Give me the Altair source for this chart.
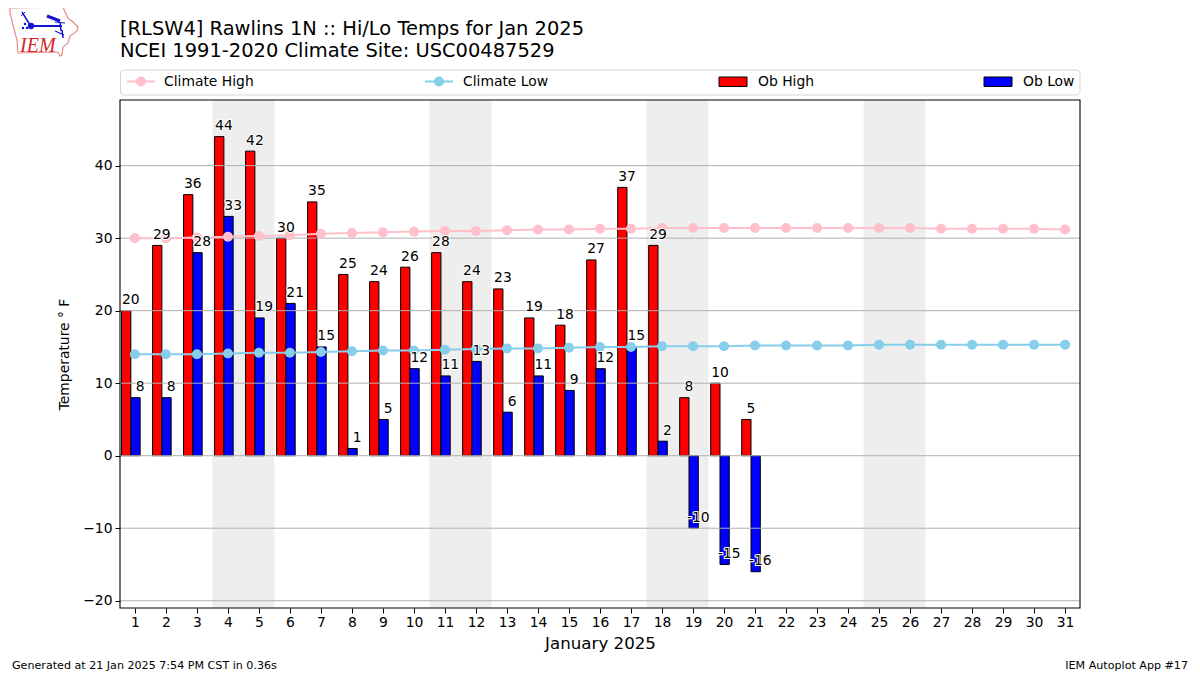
import altair as alt
import pandas as pd

days = list(range(1, 32))
ob_days = list(range(1, 22))
ob_high = [20, 29, 36, 44, 42, 30, 35, 25, 24, 26, 28, 24, 23, 19, 18, 27, 37, 29, 8, 10, 5]
ob_low = [8, 8, 28, 33, 19, 21, 15, 1, 5, 12, 11, 13, 6, 11, 9, 12, 15, 2, -10, -15, -16]
climate_high = [30.0, 30.0, 30.1, 30.2, 30.3, 30.4, 30.6, 30.7, 30.8, 30.9, 31.0, 31.0, 31.1, 31.2, 31.2, 31.3,
                31.3, 31.4, 31.4, 31.4, 31.4, 31.4, 31.4, 31.4, 31.4, 31.4, 31.3, 31.3, 31.3, 31.3, 31.2]
climate_low = [14.0, 14.0, 14.0, 14.1, 14.2, 14.2, 14.3, 14.4, 14.5, 14.5, 14.6, 14.7, 14.8, 14.8, 14.9, 15.0,
               15.0, 15.1, 15.1, 15.1, 15.2, 15.2, 15.2, 15.2, 15.3, 15.3, 15.3, 15.3, 15.3, 15.3, 15.3]
weekend_start = [3.5, 10.5, 17.5, 24.5]
weekend_end = [5.5, 12.5, 19.5, 26.5]
y_ticks = [-20, -10, 0, 10, 20, 30, 40]

FONT = "DejaVu Sans"
FS = 13.89
xdom = [0.52, 31.48]
ydom = [-21.0, 49.05]
W, H = 960, 508
L, T = 112, 92

# logo decoration outline (page pixels)
iowa_px = [(10, 8), (63, 7), (65, 12), (68, 18), (73, 22), (78, 27), (77, 31), (70, 36), (68, 43), (63, 47),
           (62, 55), (60, 56), (58, 52), (18, 53), (17, 40), (13, 25), (10, 13), (10, 8)]


def dx(px):
    return xdom[0] + (px - 8 - L) / W * (xdom[1] - xdom[0])


def dy(py):
    return ydom[1] - (py - 8 - T) / H * (ydom[1] - ydom[0])


def vx(px):
    return alt.value(px - 8 - L)


def vy(py):
    return alt.value(py - 8 - T)


def one():
    return alt.Chart(pd.DataFrame({"a": [0]}))


ob = pd.DataFrame({"day": ob_days, "high": ob_high, "low": ob_low})
ob["h0"] = ob.day - 0.43
ob["h1"] = ob.day - 0.13
ob["l0"] = ob.day - 0.13
ob["l1"] = ob.day + 0.17
ob["high_txt"] = ob.high.astype(str)
ob["low_txt"] = ob.low.astype(str)
clim = pd.DataFrame({"day": days, "chigh": climate_high, "clow": climate_low})
wk = pd.DataFrame({"a": weekend_start, "b": weekend_end})
grid_df = pd.DataFrame({"g": y_ticks})

xs = alt.Scale(domain=xdom, nice=False, zero=False)
ys = alt.Scale(domain=ydom, nice=False, zero=False)
x_axis = alt.Axis(title="January 2025", values=days, grid=False, format="d", labelFont=FONT,
                  labelFontSize=FS, labelColor="#000", tickColor="#000", tickSize=5, labelPadding=2,
                  titleFont=FONT, titleFontSize=16.67, titleFontWeight="normal", titleColor="#000",
                  titlePadding=7, domain=False, labelOverlap=False)
y_axis = alt.Axis(title="Temperature \u00b0 F", values=y_ticks, grid=False, labelFont=FONT, labelFontSize=FS,
                  labelColor="#000", tickColor="#000", tickSize=5, labelPadding=3, titleFont=FONT,
                  titleFontSize=FS, titleFontWeight="normal", titleColor="#000", titlePadding=11, domain=False)


def X(field):
    return alt.X(field, scale=xs, axis=x_axis, title="January 2025")


def Y(field):
    return alt.Y(field, scale=ys, axis=y_axis, title="Temperature \u00b0 F")


spans = alt.Chart(wk).mark_rect(color="#eeeeee").encode(
    x=X("a:Q"), x2="b:Q", y=vy(100), y2=vy(608))

high_bars = alt.Chart(ob).mark_rect(color="#ff0000", stroke="#000", strokeWidth=1).encode(
    x=X("h0:Q"), x2="h1:Q", y=Y("high:Q"), y2=alt.datum(0))
low_bars = alt.Chart(ob).mark_rect(color="#0000ff", stroke="#000", strokeWidth=1).encode(
    x=X("l0:Q"), x2="l1:Q", y=Y("low:Q"), y2=alt.datum(0))

# gridlines over the bars, as in the reference
grid_over = alt.Chart(grid_df).mark_rule(color="#b0b0b0", strokeWidth=1).encode(
    y=Y("g:Q"), x=alt.value(0), x2=alt.value(W))


def climate(col, colour):
    return alt.Chart(clim).mark_line(
        color=colour, strokeWidth=2, point=alt.OverlayMarkDef(color=colour, filled=True, size=100, opacity=1)
    ).encode(x=X("day:Q"), y=Y(f"{col}:Q"))


def labels(col, xcol, off):
    enc = dict(x=X(f"{xcol}:Q"), y=Y(f"{col}:Q"), text=alt.Text(f"{col}_txt:N"))
    halo = alt.Chart(ob).mark_text(font=FONT, fontSize=FS, baseline="alphabetic", dy=off, stroke="white",
                                   strokeWidth=2, strokeJoin="round", color="white").encode(**enc)
    txt = alt.Chart(ob).mark_text(font=FONT, fontSize=FS, baseline="alphabetic", dy=off, color="#000").encode(**enc)
    return halo + txt


frame = one().mark_rect(fill=None, stroke="#000", strokeWidth=1.1, clip=False).encode(
    x=alt.value(0), x2=alt.value(W), y=alt.value(0), y2=alt.value(H))

# legend
leg = [one().mark_rect(fill="white", stroke="#d5d5d5", strokeWidth=1, cornerRadius=3).encode(
    x=vx(120.5), x2=vx(1080), y=vy(70), y2=vy(95))]
for x0, tx, name, colour in [(127, 164, "Climate High", "pink"), (425, 463, "Climate Low", "skyblue")]:
    leg.append(one().mark_rule(color=colour, strokeWidth=2).encode(
        x=vx(x0), x2=vx(x0 + 28), y=vy(81.5)))
    leg.append(one().mark_point(color=colour, filled=True, size=100, opacity=1).encode(
        x=vx(x0 + 14), y=vy(81.5)))
    leg.append(one().mark_text(text=name, font=FONT, fontSize=FS, align="left", color="#000").encode(
        x=vx(tx), y=vy(81.5)))
for x0, name, colour in [(719, "Ob High", "#ff0000"), (984, "Ob Low", "#0000ff")]:
    leg.append(one().mark_rect(fill=colour, stroke="#000", strokeWidth=1).encode(
        x=vx(x0), x2=vx(x0 + 28), y=vy(77), y2=vy(86.5)))
    leg.append(one().mark_text(text=name, font=FONT, fontSize=FS, align="left", color="#000").encode(
        x=vx(x0 + 39), y=vy(81.5)))


# titles and footers
def note(text, px, py, size, align="left"):
    return one().mark_text(text=text, font=FONT, fontSize=size, align=align, color="#000").encode(
        x=vx(px), y=vy(py))


notes = [
    note("[RLSW4] Rawlins 1N :: Hi/Lo Temps for Jan 2025", 120, 29, 19.44),
    note("NCEI 1991-2020 Climate Site: USC00487529", 120, 51, 19.44),
    note("Generated at 21 Jan 2025 7:54 PM CST in 0.36s", 12, 666, 11.11),
    note("IEM Autoplot App #17", 1188, 666, 11.11, align="right"),
]

# logo
outline = pd.DataFrame({"x": [dx(p[0]) for p in iowa_px], "y": [dy(p[1]) for p in iowa_px],
                        "o": list(range(len(iowa_px)))})
logo_line = alt.Chart(outline).mark_line(color="#e58a8a", strokeWidth=1.2, clip=False).encode(
    x=X("x:Q"), y=Y("y:Q"), order="o:Q")


def seg(px0, py0, px1, py1, w=1.5):
    return one().mark_rule(color="#1414d2", strokeWidth=w).encode(
        x=vx(px0), x2=vx(px1), y=vy(py0), y2=vy(py1))


logo = [logo_line,
        seg(31, 26, 62, 26, 2), seg(22, 12, 30, 25), seg(21, 16, 25, 12, 1), seg(47, 16, 60, 21, 3),
        seg(55, 22, 65, 23, 1), seg(60, 22, 61, 31), seg(55, 31, 64, 35, 1.2), seg(62, 30, 63, 38),
        one().mark_point(color="#1414d2", filled=True, size=40, opacity=1).encode(x=vx(31), y=vy(26)),
        one().mark_point(color="#1414d2", filled=True, size=6, opacity=1).encode(x=vx(25), y=vy(24)),
        one().mark_point(color="#1414d2", filled=True, size=6, opacity=1).encode(x=vx(23), y=vy(28)),
        one().mark_point(color="#1414d2", filled=True, size=6, opacity=1).encode(x=vx(27), y=vy(28)),
        one().mark_text(text="IEM", font="Liberation Serif", fontStyle="italic", fontSize=20, color="#d62728",
                        align="left", baseline="alphabetic").encode(x=vx(20), y=vy(52))]

chart = alt.layer(
    *leg, *notes, *logo,
    spans, high_bars, low_bars, grid_over,
    climate("chigh", "pink"), climate("clow", "skyblue"),
    labels("high", "h1", -6.5), labels("low", "l1", -6.5),
    frame,
).properties(
    width=W, height=H,
    padding={"left": L, "top": T, "right": 112, "bottom": 66},
    autosize=alt.AutoSizeParams(type="none"),
).configure_view(stroke=None).configure_axis(tickWidth=1)

chart.save("out.html", embed_options={"renderer": "svg", "actions": False})
